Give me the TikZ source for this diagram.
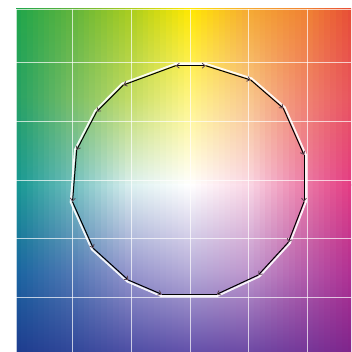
\documentclass[tikz,border=0pt]{standalone}
\usepackage{xcolor}
\usepackage{tikz}
\usetikzlibrary{arrows.meta, calc}
% colour plane: rows a (top) to e (bottom), columns A (left) to G (right)
\definecolor{aA}{HTML}{1EA54B}\definecolor{aB}{HTML}{5FB43C}\definecolor{aC}{HTML}{AACD1E}
\definecolor{aD}{HTML}{FFE800}\definecolor{aE}{HTML}{F5AA32}\definecolor{aF}{HTML}{F08232}
\definecolor{aG}{HTML}{E43C37}
\definecolor{bA}{HTML}{23A064}\definecolor{bB}{HTML}{78BE64}\definecolor{bC}{HTML}{C3DC64}
\definecolor{bD}{HTML}{FFF582}\definecolor{bE}{HTML}{F8C88C}\definecolor{bF}{HTML}{F0826E}
\definecolor{bG}{HTML}{E6465A}
\definecolor{cA}{HTML}{149691}\definecolor{cB}{HTML}{6EBEBE}\definecolor{cC}{HTML}{DCF0F0}
\definecolor{cD}{HTML}{FFFFFF}\definecolor{cE}{HTML}{FAD8E6}\definecolor{cF}{HTML}{EB78A5}
\definecolor{cG}{HTML}{E12878}
\definecolor{dA}{HTML}{1964A0}\definecolor{dB}{HTML}{5078B4}\definecolor{dC}{HTML}{9696CD}
\definecolor{dD}{HTML}{B4AAD7}\definecolor{dE}{HTML}{BE96CD}\definecolor{dF}{HTML}{B45AAA}
\definecolor{dG}{HTML}{AF238C}
\definecolor{eA}{HTML}{1E378C}\definecolor{eB}{HTML}{2D4196}\definecolor{eC}{HTML}{4646A0}
\definecolor{eD}{HTML}{5A46A5}\definecolor{eE}{HTML}{6441A0}\definecolor{eF}{HTML}{6E3296}
\definecolor{eG}{HTML}{7D1E87}
\definecolor{arrowgray}{HTML}{5E4452}

\tikzset{
  gridline/.style={white, opacity=0.7, line width=0.8pt},
  halo/.style={white, opacity=0.9, line width=1.8pt, line cap=round},
  edge/.style={black, line width=1pt,
    -{Straight Barb[length=3pt, width=5pt, line width=0.8pt, color=arrowgray]}},
}

\begin{document}
\begin{tikzpicture}[x=1pt, y=-1pt]
  \useasboundingbox[fill=white] (0,0) rectangle (351,352);
  \begin{scope}
    \clip (16,9) rectangle (351,352);
    \foreach \j/\k/\xa/\xb in {A/B/16/72, B/C/72/131, C/D/131/190,
                               D/E/190/248, E/F/248/307, F/G/307/366} {
      \foreach \s in {0,...,9} {
        \pgfmathtruncatemacro\p{\s*10+5}
        \pgfmathsetmacro\xl{\xa+(\xb-\xa)*\s/10}
        \pgfmathsetmacro\xr{\xl+(\xb-\xa)/10+0.6}
        \colorlet{ca}{a\k!\p!a\j}
        \colorlet{cb}{b\k!\p!b\j}
        \colorlet{cc}{c\k!\p!c\j}
        \colorlet{cd}{d\k!\p!d\j}
        \colorlet{ce}{e\k!\p!e\j}
        \shade[top color=ca, bottom color=cc, middle color=cb] (\xl,9) rectangle (\xr,185.4);
        \shade[top color=cc, bottom color=ce, middle color=cd] (\xl,185) rectangle (\xr,361);
      }
    }
  \end{scope}

  \foreach \x in {16,72,131,190,248,307}
    \draw[gridline] (\x,9) -- (\x,352);
  \foreach \y in {9,62,121,180,238,297}
    \draw[gridline] (16,\y) -- (351,\y);

  \coordinate (ctr) at (190,180);
  \coordinate (vt) at (190.7,65.7);
  \coordinate (v1) at (175.7,65.7);
  \coordinate (v2) at (205.7,65.7);
  \coordinate (v3) at (250.7,80);
  \coordinate (v4) at (283.3,108.3);
  \coordinate (v5) at (304,155);
  \coordinate (v6) at (304,201.7);
  \coordinate (v7) at (288.3,242.3);
  \coordinate (v8) at (258.3,275);
  \coordinate (v9) at (216.7,294.3);
  \coordinate (v10) at (161.7,294.3);
  \coordinate (v11) at (128.3,280);
  \coordinate (v12) at (93.3,248.3);
  \coordinate (v13) at (72.5,201.7);
  \coordinate (v14) at (76.7,150);
  \coordinate (v15) at (96.7,111.7);
  \coordinate (v16) at (123.3,85);

  \foreach \a/\b in {v1/v2, v2/v3, v3/v4, v4/v5, v5/v6, v6/v7, v7/v8, v8/v9,
                     v9/v10, v10/v11, v11/v12, v12/v13, v13/v14, v14/v15, v15/v16, v16/v1}
    \draw[halo] ($(ctr)!1.016!(\a)$) -- ($(ctr)!1.016!(\b)$);

  \foreach \a/\b in {vt/v1, v1/v16, v16/v15, v15/v14, v14/v13, v13/v12, v12/v11, v11/v10,
                     vt/v2, v2/v3, v3/v4, v4/v5, v5/v6, v6/v7, v7/v8, v8/v9}
    \draw[edge] (\a) -- (\b);
  \draw[black, line width=1pt] (v10) -- (v9);
\end{tikzpicture}
\end{document}
